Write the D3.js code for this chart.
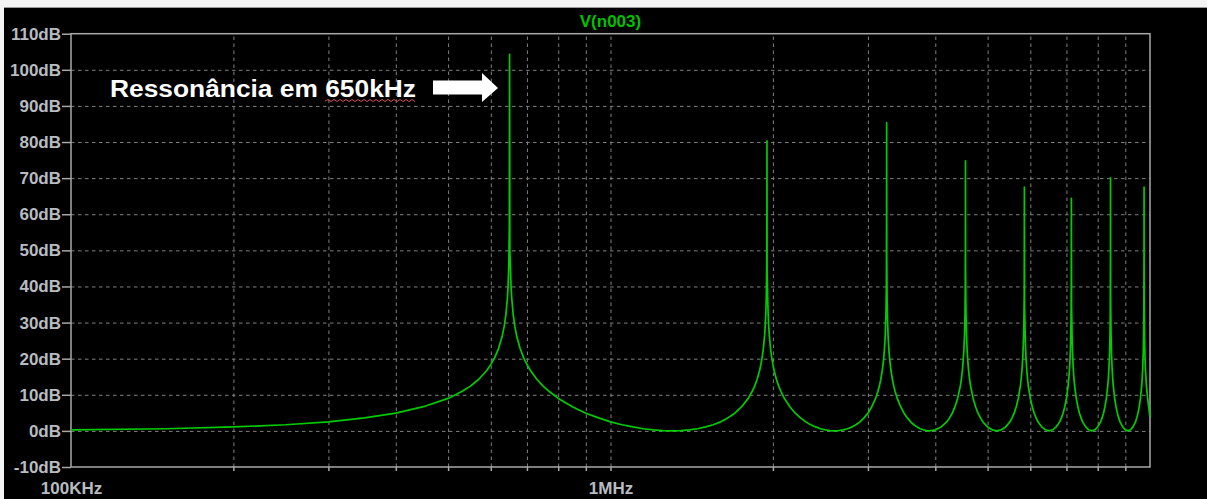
<!DOCTYPE html>
<html>
<head>
<meta charset="utf-8">
<script src="https://cdn.jsdelivr.net/npm/d3@7"></script>
<style>
  html, body { margin: 0; padding: 0; background: #000; }
  svg { display: block; }
</style>
</head>
<body>
<svg id="chart" width="1207" height="499"></svg>
<script>
// ---- data ----
const title = "V(n003)";
const annotation = "Ressonância em 650kHz";
const yTickValues = [-10, 0, 10, 20, 30, 40, 50, 60, 70, 80, 90, 100, 110];
const xGridKHz = [200, 300, 400, 500, 600, 700, 800, 900, 1000, 2000, 3000, 4000, 5000, 6000, 7000, 8000, 9000];
const xLabelKHz = [100, 1000];
const xLabelText = ["100KHz", "1MHz"];

const freqKHz = [
  100,150,200,250,300,350,400,450,500,530,550,570,590,600,610,620,630,635,640,644,646,648,649.4,
  650,
  650.8,652,654,656,660,665,670,680,690,700,710,730,750,770,800,850,900,950,1000,1050,1100,1150,1200,1250,1300,
  1350,1400,1450,1500,1550,1600,1650,1700,1750,1800,1830,1850,1870,1890,1900,1910,1920,1930,1935,1940,1944,1946,1948,1949.2,
  1950,
  1951,1954,1956,1960,1965,1970,1980,1990,2000,2010,2030,2050,2070,2100,2150,2200,2250,2300,2350,2400,2450,2500,2550,2600,
  2650,2700,2750,2800,2850,2900,2950,3000,3050,3100,3130,3150,3170,3190,3200,3210,3220,3230,3240,3246,3249,
  3250,
  3251.5,3256,3260,3270,3280,3290,3300,3310,3330,3350,3370,3400,3450,3500,3550,3600,3650,3700,3750,3800,3850,3900,
  4000,4100,4200,4250,4300,4350,4400,4450,4470,4490,4510,4520,4530,4540,4546,4548.5,
  4550,
  4552,4556,4560,4570,4580,4590,4610,4630,4650,4700,4750,4800,4850,4900,5000,5100,5200,
  5300,5400,5500,5550,5600,5650,5700,5750,5770,5790,5810,5820,5830,5840,5846.5,
  5850,
  5854,5860,5870,5880,5890,5910,5930,5950,6000,6050,6100,6150,6200,6300,6400,6500,
  6600,6700,6800,6850,6900,6950,7000,7050,7070,7090,7110,7120,7130,7140,7146,
  7150,
  7155,7160,7170,7180,7190,7210,7230,7250,7300,7350,7400,7450,7500,7600,7700,7800,
  7900,8000,8100,8150,8200,8250,8300,8350,8370,8390,8410,8420,8430,8440,8448,
  8450,
  8453,8460,8470,8480,8490,8510,8530,8550,8600,8650,8700,8750,8800,8900,9000,9100,
  9200,9300,9400,9450,9500,9550,9600,9650,9670,9690,9710,9720,9730,9740,9748,
  9750,
  9753,9760,9770,9780,9790,9810,9830,9850,9900,9950,10000
];
const gainDB = [
  0.3,0.6,1.1,1.7,2.5,3.6,4.9,6.7,9.0,10.9,12.4,14.3,16.8,18.4,20.3,22.8,26.3,28.8,32.3,36.8,40.3,46.3,57.0,
  104.3,
  50.0,46.3,40.3,36.8,32.3,28.8,26.3,22.8,20.3,18.4,16.8,14.3,12.4,10.9,9.0,6.7,4.9,3.6,2.5,1.7,1.1,0.6,0.3,0.1,0.0,
  0.1,0.3,0.6,1.1,1.7,2.5,3.6,4.9,6.7,9.0,10.9,12.4,14.3,16.8,18.4,20.3,22.8,26.3,28.8,32.3,36.8,40.3,46.3,60.0,
  80.3,
  44.0,40.3,36.8,32.3,28.8,26.3,22.8,20.3,18.4,16.8,14.3,12.4,10.9,9.0,6.7,4.9,3.6,2.5,1.7,1.1,0.6,0.3,0.1,0.0,
  0.1,0.3,0.6,1.1,1.7,2.5,3.6,4.9,6.7,9.0,10.9,12.4,14.3,16.8,18.4,20.3,22.8,26.3,32.3,40.3,60.6,
  85.4,
  48.0,36.8,32.3,26.3,22.8,20.3,18.4,16.8,14.3,12.4,10.9,9.0,6.7,4.9,3.6,2.5,1.7,1.1,0.6,0.3,0.1,0.0,
  0.3,1.1,2.5,3.6,4.9,6.7,9.0,12.4,14.3,16.8,20.3,22.8,26.3,32.3,40.3,52.0,
  74.8,
  44.0,36.8,32.3,26.3,22.8,20.3,16.8,14.3,12.4,9.0,6.7,4.9,3.6,2.5,1.1,0.3,0.0,
  0.3,1.1,2.5,3.6,4.9,6.7,9.0,12.4,14.3,16.8,20.3,22.8,26.3,32.3,38.3,
  67.5,
  35.0,32.3,26.3,22.8,20.3,16.8,14.3,12.4,9.0,6.7,4.9,3.6,2.5,1.1,0.3,0.0,
  0.3,1.1,2.5,3.6,4.9,6.7,9.0,12.4,14.3,16.8,20.3,22.8,26.3,32.3,40.9,
  64.4,
  34.5,32.3,26.3,22.8,20.3,16.8,14.3,12.4,9.0,6.7,4.9,3.6,2.5,1.1,0.3,0.0,
  0.3,1.1,2.5,3.6,4.9,6.7,9.0,12.4,14.3,16.8,20.3,22.8,26.3,32.3,50.3,
  70.1,
  38.0,32.3,26.3,22.8,20.3,16.8,14.3,12.4,9.0,6.7,4.9,3.6,2.5,1.1,0.3,0.0,
  0.3,1.1,2.5,3.6,4.9,6.7,9.0,12.4,14.3,16.8,20.3,22.8,26.3,32.3,48.6,
  67.5,
  38.0,32.3,26.3,22.8,20.3,16.8,14.3,12.4,9.0,6.3,3.8
];

// ---- layout ----
const W = 1207, H = 499;
const plot = { left: 71, right: 1150, top: 33.7, bottom: 467 };
const font = "'Liberation Sans', Arial, sans-serif";

const svg = d3.select("#chart");
svg.append("rect").attr("width", W).attr("height", H).attr("fill", "#000");
// window border at top / left
svg.append("rect").attr("x", 0).attr("y", 0).attr("width", W).attr("height", 7).attr("fill", "#f4f4f4");
svg.append("line").attr("x1", 0).attr("x2", W).attr("y1", 7.5).attr("y2", 7.5).attr("stroke", "#9a9a9a").attr("stroke-width", 1);
svg.append("rect").attr("x", 0).attr("y", 0).attr("width", 4).attr("height", H).attr("fill", "#f4f4f4");

const x = d3.scaleLog().domain([100, 10000]).range([plot.left, plot.right]);
const y = d3.scaleLinear().domain([-10, 110]).range([plot.bottom, plot.top]);

// grid
const gridColor = "#808080";
const grid = svg.append("g");
grid.append("g")
  .attr("transform", `translate(0,${plot.bottom})`)
  .call(d3.axisBottom(x).tickValues(xGridKHz).tickSize(-(plot.bottom - plot.top)).tickFormat(""))
  .call(g => g.select(".domain").remove())
  .call(g => g.selectAll("line").attr("stroke", gridColor).attr("stroke-dasharray", "3.5,3.5").attr("stroke-width", 1));
grid.append("g")
  .attr("transform", `translate(${plot.left},0)`)
  .call(d3.axisLeft(y).tickValues(yTickValues.slice(1, -1)).tickSize(-(plot.right - plot.left)).tickFormat(""))
  .call(g => g.select(".domain").remove())
  .call(g => g.selectAll("line").attr("stroke", gridColor).attr("stroke-dasharray", "3.5,3.5").attr("stroke-width", 1));

// axes
const axisColor = "#a8a8a8";
const labelColor = "#b8bcc0";
svg.append("g")
  .attr("transform", `translate(${plot.left},0)`)
  .call(d3.axisLeft(y).tickValues(yTickValues).tickSize(9).tickPadding(1).tickFormat(d => d + "dB"))
  .call(g => g.select(".domain").remove())
  .call(g => g.selectAll("line").attr("stroke", axisColor).attr("stroke-width", 1.5))
  .call(g => g.selectAll("text").attr("fill", labelColor).attr("font-family", font)
      .attr("font-weight", "bold").attr("font-size", "17px"));

svg.append("g")
  .attr("transform", `translate(0,${plot.bottom})`)
  .call(d3.axisBottom(x).tickValues(xGridKHz).tickSize(4).tickFormat(""))
  .call(g => g.select(".domain").remove())
  .call(g => g.selectAll("line").attr("stroke", axisColor).attr("stroke-width", 1.5));

svg.append("g")
  .attr("transform", `translate(0,${plot.bottom})`)
  .call(d3.axisBottom(x).tickValues(xLabelKHz).tickSize(0).tickPadding(15).tickFormat((d, i) => xLabelText[i]))
  .call(g => g.select(".domain").remove())
  .call(g => g.selectAll("text").attr("fill", labelColor).attr("font-family", font)
      .attr("font-weight", "bold").attr("font-size", "17px"));

// frame
svg.append("rect")
  .attr("x", plot.left).attr("y", plot.top)
  .attr("width", plot.right - plot.left).attr("height", plot.bottom - plot.top)
  .attr("fill", "none").attr("stroke", axisColor).attr("stroke-width", 1.5);

// title
svg.append("text")
  .attr("x", x(1000)).attr("y", 26.5)
  .attr("text-anchor", "middle")
  .attr("fill", "#00c000").attr("font-family", font).attr("font-weight", "bold").attr("font-size", "17px")
  .text(title);

// curve
const pts = freqKHz.map((f, i) => [f, gainDB[i]]);
svg.append("path")
  .datum(pts)
  .attr("fill", "none")
  .attr("stroke", "#00cc00")
  .attr("stroke-width", 1.7)
  .attr("stroke-linejoin", "round")
  .attr("d", d3.line().x(d => x(d[0])).y(d => y(d[1])));

// annotation
svg.append("text")
  .attr("x", 110).attr("y", 96.5)
  .attr("fill", "#ffffff").attr("font-family", font).attr("font-weight", "bold").attr("font-size", "24px")
  .attr("textLength", 306).attr("lengthAdjust", "spacingAndGlyphs")
  .text(annotation);

// spell-check squiggle under "650kHz"
const sq = d3.path();
sq.moveTo(325, 101);
for (let i = 0; i < 30; i++) sq.lineTo(325 + (i + 1) * 3, i % 2 === 0 ? 99.5 : 101.5);
svg.append("path").attr("d", sq.toString()).attr("fill", "none").attr("stroke", "#d05050").attr("stroke-width", 1);

// block arrow pointing to the resonance
const arrow = d3.path();
arrow.moveTo(433, 80.5);
arrow.lineTo(482, 80.5);
arrow.lineTo(482, 73);
arrow.lineTo(498, 88);
arrow.lineTo(482, 102);
arrow.lineTo(482, 94.5);
arrow.lineTo(433, 94.5);
arrow.closePath();
svg.append("path").attr("d", arrow.toString()).attr("fill", "#ffffff");
</script>
</body>
</html>
